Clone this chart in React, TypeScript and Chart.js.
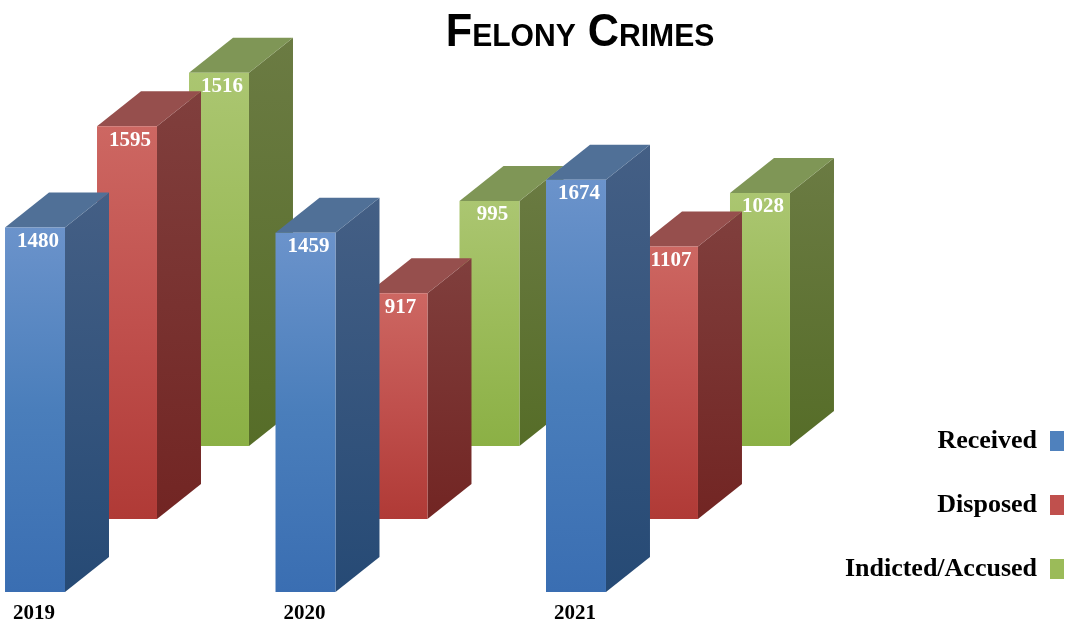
import React, { useEffect, useRef } from "react";
import { Chart, registerables } from "chart.js";

Chart.register(...registerables);

const years = [2019, 2020, 2021];
const received = [1480, 1459, 1674];
const disposed = [1595, 917, 1107];
const indicted = [1516, 995, 1028];
const seriesNames = ["Received", "Disposed", "Indicted/Accused"];
const titleText = "Felony Crimes";

const SERIF = '"Liberation Serif", serif';
const DX = 44;
const DY = 35;
const PX_PER_UNIT = 0.2462;
const TITLE_SQUEEZE = 0.94;

const front = [
  ["#6b93cb", "#4a7ebb", "#3a6eb2"],
  ["#cd6762", "#c0504d", "#b03a36"],
  ["#abc671", "#9bbb59", "#8bb045"],
];
const side = [
  ["#445f85", "#264a75"],
  ["#803f3d", "#722523"],
  ["#6b7b43", "#566d28"],
];
const topFace = ["#507097", "#964f4d", "#7f9656"];
const legendColor = ["#4f81bd", "#c0504d", "#9bbb59"];

const depthPlugin = {
  id: "depth",
  beforeDraw(chart: any) {
    const tb = chart.titleBlock;
    if (tb && !tb.__squeezed) {
      tb.__squeezed = true;
      const orig = tb.draw;
      tb.draw = function () {
        const ctx = chart.ctx;
        const cx = (tb.left + tb.right) / 2;
        ctx.save();
        ctx.translate(cx, 0);
        ctx.scale(TITLE_SQUEEZE, 1);
        ctx.translate(-cx, 0);
        orig.call(tb);
        ctx.restore();
      };
    }
  },
  beforeDatasetDraw(chart: any, args: any) {
    const ctx = chart.ctx;
    const s = args.index;
    ctx.save();
    args.meta.data.forEach((bar: any) => {
      const r = bar.x + bar.width / 2;
      const l = bar.x - bar.width / 2;
      const t = bar.y;
      const b = bar.base;
      const g = ctx.createLinearGradient(0, t - DY, 0, b);
      g.addColorStop(0, side[s][0]);
      g.addColorStop(1, side[s][1]);
      ctx.fillStyle = g;
      ctx.beginPath();
      ctx.moveTo(r, t);
      ctx.lineTo(r + DX, t - DY);
      ctx.lineTo(r + DX, b - DY);
      ctx.lineTo(r, b);
      ctx.closePath();
      ctx.fill();
      ctx.fillStyle = topFace[s];
      ctx.beginPath();
      ctx.moveTo(l, t);
      ctx.lineTo(l + DX, t - DY);
      ctx.lineTo(r + DX, t - DY);
      ctx.lineTo(r, t);
      ctx.closePath();
      ctx.fill();
    });
    ctx.restore();
  },
  afterDatasetDraw(chart: any, args: any) {
    const ctx = chart.ctx;
    const values = chart.data.datasets[args.index].data;
    ctx.save();
    ctx.fillStyle = "#ffffff";
    ctx.font = `bold 21px ${SERIF}`;
    ctx.textAlign = "center";
    ctx.textBaseline = "middle";
    args.meta.data.forEach((bar: any, i: number) => {
      ctx.fillText(String(values[i]), bar.x + 3, bar.y + 14);
    });
    ctx.restore();
  },
};

function frontFill(s: number) {
  return (c: any) => {
    if (c.dataIndex === undefined) return legendColor[s];
    const y = c.chart.scales[c.dataset.yAxisID];
    const t = y.getPixelForValue(c.dataset.data[c.dataIndex]);
    const b = y.getPixelForValue(0);
    const g = c.chart.ctx.createLinearGradient(0, t, 0, b);
    g.addColorStop(0, front[s][0]);
    g.addColorStop(0.5, front[s][1]);
    g.addColorStop(1, front[s][2]);
    return g;
  };
}

const AREA_TOP = 61.2;
const AREA_BOTTOM = 592;
const yRange = (AREA_BOTTOM - AREA_TOP) / PX_PER_UNIT;
const baseLift = [0, 73, 146];
function yAxis(i: number) {
  const min = -baseLift[i] / PX_PER_UNIT;
  return { display: false, min, max: min + yRange };
}

export default function App() {
  const ref = useRef<HTMLCanvasElement | null>(null);
  useEffect(() => {
    document.body.style.margin = "0";
    const chart = new Chart(ref.current as HTMLCanvasElement, {
      type: "bar",
      data: {
        labels: years,
        datasets: [received, disposed, indicted].map((data, i) => ({
          label: seriesNames[i],
          data,
          yAxisID: `y${i}`,
          backgroundColor: frontFill(i),
          clip: false,
          categoryPercentage: 1.0203,
          barPercentage: 0.652,
        })),
      } as any,
      options: {
        animation: false,
        responsive: false,
        layout: { padding: { left: 58, right: -37, top: 0, bottom: 4 } },
        plugins: {
          tooltip: { enabled: false },
          title: {
            display: true,
            text: titleText,
            color: "#000000",
            padding: { top: 6, bottom: 0 },
            font: { family: '"Liberation Sans", sans-serif', size: 46, weight: "small-caps bold" },
          },
          legend: {
            position: "right",
            align: "end",
            rtl: true,
            textDirection: "ltr",
            labels: {
              boxWidth: 14,
              boxHeight: 20,
              padding: 38,
              color: "#000000",
              font: { family: SERIF, size: 26, weight: "bold" },
              generateLabels: () =>
                seriesNames.map((text, i) => ({
                  text,
                  fillStyle: legendColor[i],
                  strokeStyle: legendColor[i],
                  lineWidth: 0,
                  datasetIndex: i,
                  fontColor: "#000000",
                })),
            },
          },
        },
        scales: {
          x: {
            type: "linear",
            offset: false,
            min: 2018.7449,
            max: 2021.617,
            grid: { display: false, drawTicks: false },
            border: { display: false },
            afterFit: (s: any) => { s.height = 28; },
            ticks: {
              stepSize: 1,
              includeBounds: false,
              autoSkip: false,
              maxRotation: 0,
              padding: 9,
              labelOffset: -93,
              color: "#000000",
              font: { family: SERIF, size: 21, weight: "bold" },
              callback: (v: any) => String(v),
            },
          },
          y0: yAxis(0),
          y1: yAxis(1),
          y2: yAxis(2),
        },
      } as any,
      plugins: [depthPlugin],
    });
    return () => chart.destroy();
  }, []);
  return <canvas ref={ref} width={1065} height={624} style={{ display: "block" }} />;
}
